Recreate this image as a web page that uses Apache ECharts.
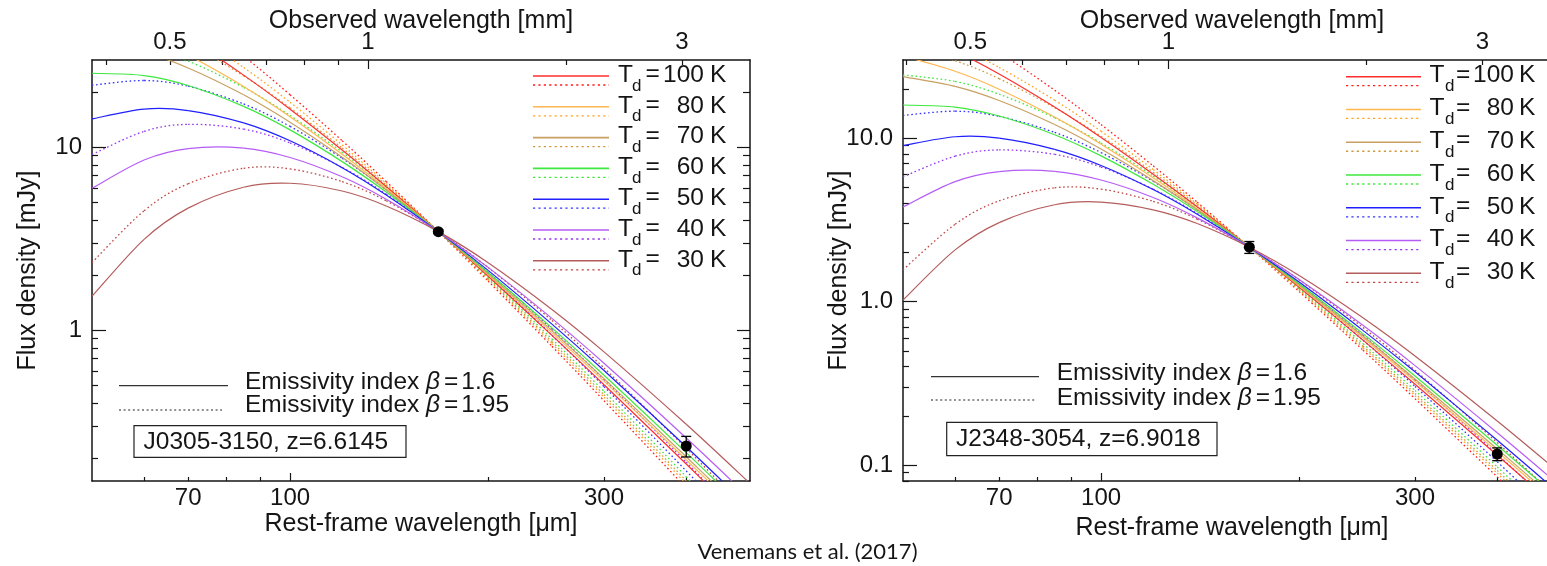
<!DOCTYPE html>
<html>
<head>
<meta charset="utf-8">
<script src="https://cdn.jsdelivr.net/npm/echarts@6/dist/echarts.min.js"></script>
<style>
  html, body { margin: 0; padding: 0; background: #ffffff; }
  #chart { width: 1547px; height: 566px; }
</style>
</head>
<body>
<div id="chart"></div>
<script>
// Rest-frame wavelengths (micron) at which the dust models are tabulated
const restWavelength = [50, 60, 70, 85, 100, 120, 140, 168, 200, 250, 300, 400, 500];
const temperatures = [100, 80, 70, 60, 50, 40, 30];

// J0305-3150 (z = 6.6145): model flux densities in mJy
const j0305_beta160_T100 = [75.3, 54.6, 39.5, 24.8, 16.16, 9.66, 6.10, 3.46, 1.972, 0.938, 0.504, 0.1857, 0.0847];
const j0305_beta160_T80  = [50.9, 41.0, 31.85, 21.51, 14.70, 9.16, 5.95, 3.46, 2.007, 0.971, 0.527, 0.1959, 0.0897];
const j0305_beta160_T70  = [37.96, 33.1, 27.14, 19.35, 13.70, 8.81, 5.84, 3.46, 2.034, 0.996, 0.544, 0.2035, 0.0935];
const j0305_beta160_T60  = [25.39, 24.66, 21.77, 16.73, 12.45, 8.35, 5.69, 3.46, 2.070, 1.030, 0.568, 0.2144, 0.0989];
const j0305_beta160_T50  = [14.29, 16.17, 15.88, 13.59, 10.85, 7.74, 5.49, 3.46, 2.124, 1.080, 0.603, 0.2308, 0.1071];
const j0305_beta160_T40  = [5.97, 8.52, 9.83, 9.90, 8.80, 6.90, 5.20, 3.46, 2.206, 1.161, 0.660, 0.2576, 0.1207];
const j0305_beta160_T30  = [1.534, 3.14, 4.65, 6.05, 6.36, 5.77, 4.78, 3.46, 2.341, 1.300, 0.762, 0.3063, 0.1455];

const j0305_beta195_T100 = [115.2, 78.3, 53.6, 31.5, 19.38, 10.86, 6.50, 3.46, 1.855, 0.817, 0.412, 0.1371, 0.0577];
const j0305_beta195_T80  = [77.8, 58.8, 43.3, 27.30, 17.63, 10.30, 6.34, 3.46, 1.889, 0.845, 0.430, 0.1446, 0.0612];
const j0305_beta195_T70  = [58.0, 47.5, 36.9, 24.56, 16.43, 9.91, 6.23, 3.46, 1.914, 0.867, 0.444, 0.1503, 0.0638];
const j0305_beta195_T60  = [38.8, 35.4, 29.58, 21.24, 14.93, 9.40, 6.07, 3.46, 1.948, 0.896, 0.463, 0.1583, 0.0675];
const j0305_beta195_T50  = [21.85, 23.18, 21.57, 17.25, 13.01, 8.71, 5.86, 3.46, 1.998, 0.940, 0.492, 0.1704, 0.0731];
const j0305_beta195_T40  = [9.13, 12.22, 13.35, 12.57, 10.56, 7.76, 5.55, 3.46, 2.075, 1.011, 0.539, 0.1902, 0.0823];
const j0305_beta195_T30  = [2.345, 4.50, 6.32, 7.68, 7.62, 6.49, 5.10, 3.46, 2.203, 1.131, 0.622, 0.2261, 0.0992];

// J2348-3054 (z = 6.9018): model flux densities in mJy
const j2348_beta160_T100 = [46.99, 34.08, 24.62, 15.46, 10.07, 6.01, 3.80, 2.15, 1.224, 0.5815, 0.3124, 0.1149, 0.0523];
const j2348_beta160_T80  = [31.78, 25.61, 19.89, 13.43, 9.17, 5.71, 3.70, 2.15, 1.2455, 0.601, 0.326, 0.1210, 0.0554];
const j2348_beta160_T70  = [23.75, 20.71, 16.97, 12.10, 8.56, 5.49, 3.64, 2.15, 1.262, 0.616, 0.336, 0.1256, 0.0577];
const j2348_beta160_T60  = [15.92, 15.46, 13.64, 10.48, 7.78, 5.21, 3.55, 2.15, 1.284, 0.637, 0.3505, 0.1322, 0.0609];
const j2348_beta160_T50  = [8.99, 10.18, 9.99, 8.53, 6.80, 4.84, 3.42, 2.15, 1.316, 0.667, 0.372, 0.1419, 0.0658];
const j2348_beta160_T40  = [3.79, 5.41, 6.23, 6.26, 5.54, 4.33, 3.25, 2.15, 1.365, 0.716, 0.406, 0.1579, 0.0739];
const j2348_beta160_T30  = [1.022, 2.071, 3.04, 3.91, 4.06, 3.64, 3.00, 2.15, 1.445, 0.797, 0.465, 0.1861, 0.0882];

const j2348_beta195_T100 = [71.9, 48.9, 33.4, 19.62, 12.08, 6.76, 4.05, 2.15, 1.151, 0.506, 0.255, 0.0848, 0.0357];
const j2348_beta195_T80  = [48.6, 36.7, 27.03, 17.04, 11.00, 6.42, 3.95, 2.15, 1.172, 0.524, 0.266, 0.0893, 0.0378];
const j2348_beta195_T70  = [36.3, 29.69, 23.06, 15.35, 10.26, 6.18, 3.88, 2.15, 1.187, 0.536, 0.274, 0.0927, 0.0393];
const j2348_beta195_T60  = [24.34, 22.17, 18.54, 13.30, 9.33, 5.86, 3.78, 2.15, 1.208, 0.554, 0.286, 0.0976, 0.0415];
const j2348_beta195_T50  = [13.75, 14.59, 13.57, 10.83, 8.15, 5.44, 3.65, 2.15, 1.238, 0.581, 0.303, 0.1048, 0.0449];
const j2348_beta195_T40  = [5.80, 7.75, 8.46, 7.94, 6.65, 4.87, 3.46, 2.15, 1.285, 0.623, 0.331, 0.1166, 0.0504];
const j2348_beta195_T30  = [1.564, 2.969, 4.13, 4.96, 4.87, 4.10, 3.19, 2.15, 1.359, 0.694, 0.380, 0.1374, 0.0602];

// Measured continuum points: rest wavelength (micron), flux (mJy), 1-sigma error (mJy)
const j0305_obsWave = [168, 400];
const j0305_obsFlux = [3.46, 0.233];
const j0305_obsErr  = [0.08, 0.030];
const j2348_obsWave = [168, 400];
const j2348_obsFlux = [2.15, 0.117];
const j2348_obsErr  = [0.18, 0.0105];

// Tick values
const restTickLabels = [70, 100, 300];
const restMajorTicks = [100];
const restMinorTicks = [60, 70, 80, 90, 200, 300, 400];
const obsTickLabels = [0.5, 1, 3];
const obsMajorTicks = [1];
const obsMinorTicks = [0.4, 0.5, 0.6, 0.7, 0.8, 0.9, 2, 3];
const fluxMajorTicks = [0.1, 1, 10];
const fluxMinorTicks = [0.08, 0.09, 0.2, 0.3, 0.4, 0.5, 0.6, 0.7, 0.8, 0.9, 2, 3, 4, 5, 6, 7, 8, 9, 20];
const j0305_fluxLabels = [1, 10];
const j2348_fluxLabels = [0.1, 1, 10];

const FONT = "'Liberation Sans', Arial, Helvetica, sans-serif";
const INK = '#151515';
const solidColors  = ['#ff2e2e', '#ffb850', '#c8a062', '#3ee83e', '#1f1fff', '#b65cf6', '#b45c5c'];
const dottedColors = ['#ff1e1e', '#ffa31f', '#cf9a3e', '#3fe83f', '#3434ff', '#9438f2', '#c04646'];

const panels = [
  {
    name: 'J0305-3150', z: 6.6145, yMin: 0.15,
    solid:  [j0305_beta160_T100, j0305_beta160_T80, j0305_beta160_T70, j0305_beta160_T60, j0305_beta160_T50, j0305_beta160_T40, j0305_beta160_T30],
    dotted: [j0305_beta195_T100, j0305_beta195_T80, j0305_beta195_T70, j0305_beta195_T60, j0305_beta195_T50, j0305_beta195_T40, j0305_beta195_T30],
    obs: [j0305_obsWave, j0305_obsFlux, j0305_obsErr],
    yLabels: j0305_fluxLabels, yFmt: v => String(Math.round(v)),
    box: { left: 92, top: 60, width: 658, height: 421 },
    legend: { x0: 533, x1: 609, y0: 76, dy: 30.8, tX: 618, dX: 632, eqX: 645.5, numR: 704, kX: 710 },
    emis: { lx0: 119, lx1: 228, lx1d: 222, ySolid: 385.7, yDot: 410, tX: 245, tY1: 382, tY2: 405.5 },
    label: { x: 134, y: 425.7, w: 272, h: 31.6, tX: 143.5, tY: 441.8 },
    titles: { cx: 421, topY: 21, bottomY: 524.5, yX: 28.5 }
  },
  {
    name: 'J2348-3054', z: 6.9018, yMin: 0.08,
    solid:  [j2348_beta160_T100, j2348_beta160_T80, j2348_beta160_T70, j2348_beta160_T60, j2348_beta160_T50, j2348_beta160_T40, j2348_beta160_T30],
    dotted: [j2348_beta195_T100, j2348_beta195_T80, j2348_beta195_T70, j2348_beta195_T60, j2348_beta195_T50, j2348_beta195_T40, j2348_beta195_T30],
    obs: [j2348_obsWave, j2348_obsFlux, j2348_obsErr],
    yLabels: j2348_fluxLabels, yFmt: v => v.toFixed(1),
    box: { left: 903, top: 60, width: 658, height: 421 },
    legend: { x0: 1346, x1: 1421, y0: 76.7, dy: 32.77, tX: 1429.5, dX: 1445, eqX: 1456, numR: 1514, kX: 1519 },
    emis: { lx0: 931, lx1: 1039, lx1d: 1035, ySolid: 376.7, yDot: 400, tX: 1056.7, tY1: 373.5, tY2: 398 },
    label: { x: 946.7, y: 422.3, w: 270.3, h: 33.4, tX: 956, tY: 439.2 },
    titles: { cx: 1232, topY: 21, bottomY: 528, yX: 839 }
  }
];

function makeAxis(gridIndex, position, min, max, o) {
  return {
    type: 'log', logBase: 10, gridIndex, position, min, max,
    silent: true,
    splitLine: { show: false },
    minorTick: { show: false },
    minorSplitLine: { show: false },
    axisLine: { show: !!o.line, lineStyle: { color: INK, width: 1.5 } },
    axisTick: {
      show: true, inside: true, length: o.tickLen, customValues: o.ticks,
      lineStyle: { color: INK, width: 1.2 }
    },
    axisLabel: o.labels ? {
      show: true, customValues: o.labels, formatter: o.fmt, margin: o.margin,
      color: INK, fontFamily: FONT, fontSize: 24
    } : { show: false }
  };
}

// A model curve drawn as a Catmull-Rom spline through its tabulated points,
// positioned with the axes' own log scales (api.coord).
function curveSeries(name, xi, yi, pts, color, width, dash, z) {
  const n = pts.length;
  return {
    type: 'custom', name, xAxisIndex: xi, yAxisIndex: yi, silent: true, clip: true, z,
    encode: { x: 0, y: 1 },
    data: pts,
    renderItem: (params, api) => {
      const i = params.dataIndex;
      if (i >= n - 1) return null;
      const c = k => api.coord(pts[Math.max(0, Math.min(n - 1, k))]);
      const p0 = c(i - 1), p1 = c(i), p2 = c(i + 1), p3 = c(i + 2);
      return {
        type: 'bezierCurve',
        shape: {
          x1: p1[0], y1: p1[1], x2: p2[0], y2: p2[1],
          cpx1: p1[0] + (p2[0] - p0[0]) / 6, cpy1: p1[1] + (p2[1] - p0[1]) / 6,
          cpx2: p2[0] - (p3[0] - p1[0]) / 6, cpy2: p2[1] - (p3[1] - p1[1]) / 6
        },
        style: { stroke: color, lineWidth: width, lineDash: dash, fill: null }
      };
    }
  };
}

const grids = [], xAxes = [], yAxes = [], series = [], graphics = [];

function addText(x, y, text, o) {
  o = o || {};
  graphics.push({
    type: 'text', silent: true, x, y, rotation: o.rot || 0, z: 20,
    style: {
      text, fill: INK,
      font: (o.italic ? 'italic ' : '') + (o.size || 24) + 'px ' + (o.family || FONT),
      align: o.align || 'left', verticalAlign: 'middle',
      rich: o.rich
    }
  });
}
function addLine(x1, y1, x2, y2, color, width, dash) {
  graphics.push({
    type: 'line', silent: true, z: 20,
    shape: { x1, y1, x2, y2 },
    style: { stroke: color, lineWidth: width, lineDash: dash || null }
  });
}

const DOTS = [1.6, 2.6];

panels.forEach((p, pi) => {
  grids.push(Object.assign({ containLabel: false, outerBoundsMode: 'none', show: false }, p.box));
  const obsMin = 50 * (1 + p.z) / 1000, obsMax = 500 * (1 + p.z) / 1000;

  xAxes.push(makeAxis(pi, 'bottom', 50, 500, { line: true, ticks: restMajorTicks, tickLen: 8, labels: restTickLabels, fmt: v => String(Math.round(v)), margin: 5 }));
  xAxes.push(makeAxis(pi, 'bottom', 50, 500, { ticks: restMinorTicks, tickLen: 4 }));
  xAxes.push(makeAxis(pi, 'top', obsMin, obsMax, { line: true, ticks: obsMajorTicks, tickLen: 9, labels: obsTickLabels, fmt: v => String(+v.toFixed(2)), margin: 6 }));
  xAxes.push(makeAxis(pi, 'top', obsMin, obsMax, { ticks: obsMinorTicks, tickLen: 5 }));

  yAxes.push(makeAxis(pi, 'left', p.yMin, 30, { line: true, ticks: fluxMajorTicks, tickLen: 14, labels: p.yLabels, fmt: p.yFmt, margin: 10 }));
  yAxes.push(makeAxis(pi, 'left', p.yMin, 30, { ticks: fluxMinorTicks, tickLen: 6 }));
  yAxes.push(makeAxis(pi, 'right', p.yMin, 30, { line: true, ticks: fluxMajorTicks, tickLen: 13 }));
  yAxes.push(makeAxis(pi, 'right', p.yMin, 30, { ticks: fluxMinorTicks, tickLen: 7 }));

  const xi = pi * 4, yi = pi * 4;

  // model curves, dotted first so the solid curves sit on top
  temperatures.forEach((T, ti) => {
    const pts = restWavelength.map((l, i) => [l, p.dotted[ti][i]]);
    series.push(curveSeries(p.name + ' T=' + T + ' beta=1.95', xi, yi, pts, dottedColors[ti], 1.3, DOTS, 2));
  });
  temperatures.forEach((T, ti) => {
    const pts = restWavelength.map((l, i) => [l, p.solid[ti][i]]);
    series.push(curveSeries(p.name + ' T=' + T + ' beta=1.6', xi, yi, pts, solidColors[ti], 1.2, null, 3));
  });

  const [ow, of, oe] = p.obs;
  series.push({
    type: 'custom', xAxisIndex: xi, yAxisIndex: yi, silent: true, z: 5,
    encode: { x: 0, y: 1 },
    data: ow.map((w, i) => [w, of[i], oe[i]]),
    renderItem: (params, api) => {
      const x = api.value(0), y = api.value(1), e = api.value(2);
      const hi = api.coord([x, y + e]), lo = api.coord([x, y - e]);
      const st = { stroke: '#000', lineWidth: 1.3 };
      const cap = 5;
      return {
        type: 'group', children: [
          { type: 'line', shape: { x1: hi[0], y1: hi[1], x2: lo[0], y2: lo[1] }, style: st },
          { type: 'line', shape: { x1: hi[0] - cap, y1: hi[1], x2: hi[0] + cap, y2: hi[1] }, style: st },
          { type: 'line', shape: { x1: lo[0] - cap, y1: lo[1], x2: lo[0] + cap, y2: lo[1] }, style: st }
        ]
      };
    }
  });
  series.push({
    type: 'scatter', xAxisIndex: xi, yAxisIndex: yi, silent: true, z: 6,
    data: ow.map((w, i) => [w, of[i]]),
    symbol: 'circle', symbolSize: 11, itemStyle: { color: '#000', opacity: 1 }
  });

  // temperature key
  const L = p.legend;
  temperatures.forEach((T, ti) => {
    const y = L.y0 + ti * L.dy;
    addLine(L.x0, y, L.x1, y, solidColors[ti], 1.6);
    addLine(L.x0, y + 9, L.x1, y + 9, dottedColors[ti], 1.3, [2.2, 3.2]);
    addText(L.tX, y - 1, 'T', { size: 24.5 });
    addText(L.dX, y + 10, 'd', { size: 17 });
    addText(L.eqX, y - 1.5, '=', { size: 24.5 });
    addText(L.numR, y - 1, String(T), { size: 24.5, align: 'right' });
    addText(L.kX, y - 1, 'K', { size: 24.5 });
  });

  // emissivity key
  const E = p.emis;
  addLine(E.lx0, E.ySolid, E.lx1, E.ySolid, '#333', 1.2);
  addLine(E.lx0, E.yDot, E.lx1d, E.yDot, '#222', 1.2, [2, 2.6]);
  const richE = {
    t: { fontFamily: FONT, fontSize: 24.5, fill: INK },
    b: { fontFamily: FONT, fontSize: 24.5, fontStyle: 'italic', fill: INK, padding: [0, 3, 0, 0] },
    e: { fontFamily: FONT, fontSize: 24.5, fill: INK, padding: [0, 3, 0, 1] }
  };
  addText(E.tX, E.tY1, '{t|Emissivity index }{b|β}{e|=}{t|1.6}', { size: 24.5, rich: richE });
  addText(E.tX, E.tY2, '{t|Emissivity index }{b|β}{e|=}{t|1.95}', { size: 24.5, rich: richE });

  // source label
  const B = p.label;
  graphics.push({
    type: 'rect', silent: true, z: 20,
    shape: { x: B.x, y: B.y, width: B.w, height: B.h },
    style: { fill: '#fff', stroke: '#222', lineWidth: 1.2 }
  });
  addText(B.tX, B.tY, p.name + ', z=' + p.z.toFixed(4), { size: 24.5 });

  // axis titles
  const Tt = p.titles;
  addText(Tt.cx, Tt.topY, 'Observed wavelength [mm]', { size: 25, align: 'center' });
  addText(Tt.cx, Tt.bottomY, 'Rest-frame wavelength [μm]', { size: 25, align: 'center' });
  addText(Tt.yX, p.box.top + p.box.height / 2, 'Flux density [mJy]', { size: 25, align: 'center', rot: Math.PI / 2 });
});

addText(807.5, 552, 'Venemans et al. (2017)', { size: 22, align: 'center', family: "Lato, 'Open Sans', sans-serif" });

const chart = echarts.init(document.getElementById('chart'), null, { renderer: 'canvas', width: 1547, height: 566 });
chart.setOption({
  animation: false,
  backgroundColor: '#ffffff',
  grid: grids,
  xAxis: xAxes,
  yAxis: yAxes,
  series: series,
  graphic: { elements: graphics }
});
</script>
</body>
</html>
